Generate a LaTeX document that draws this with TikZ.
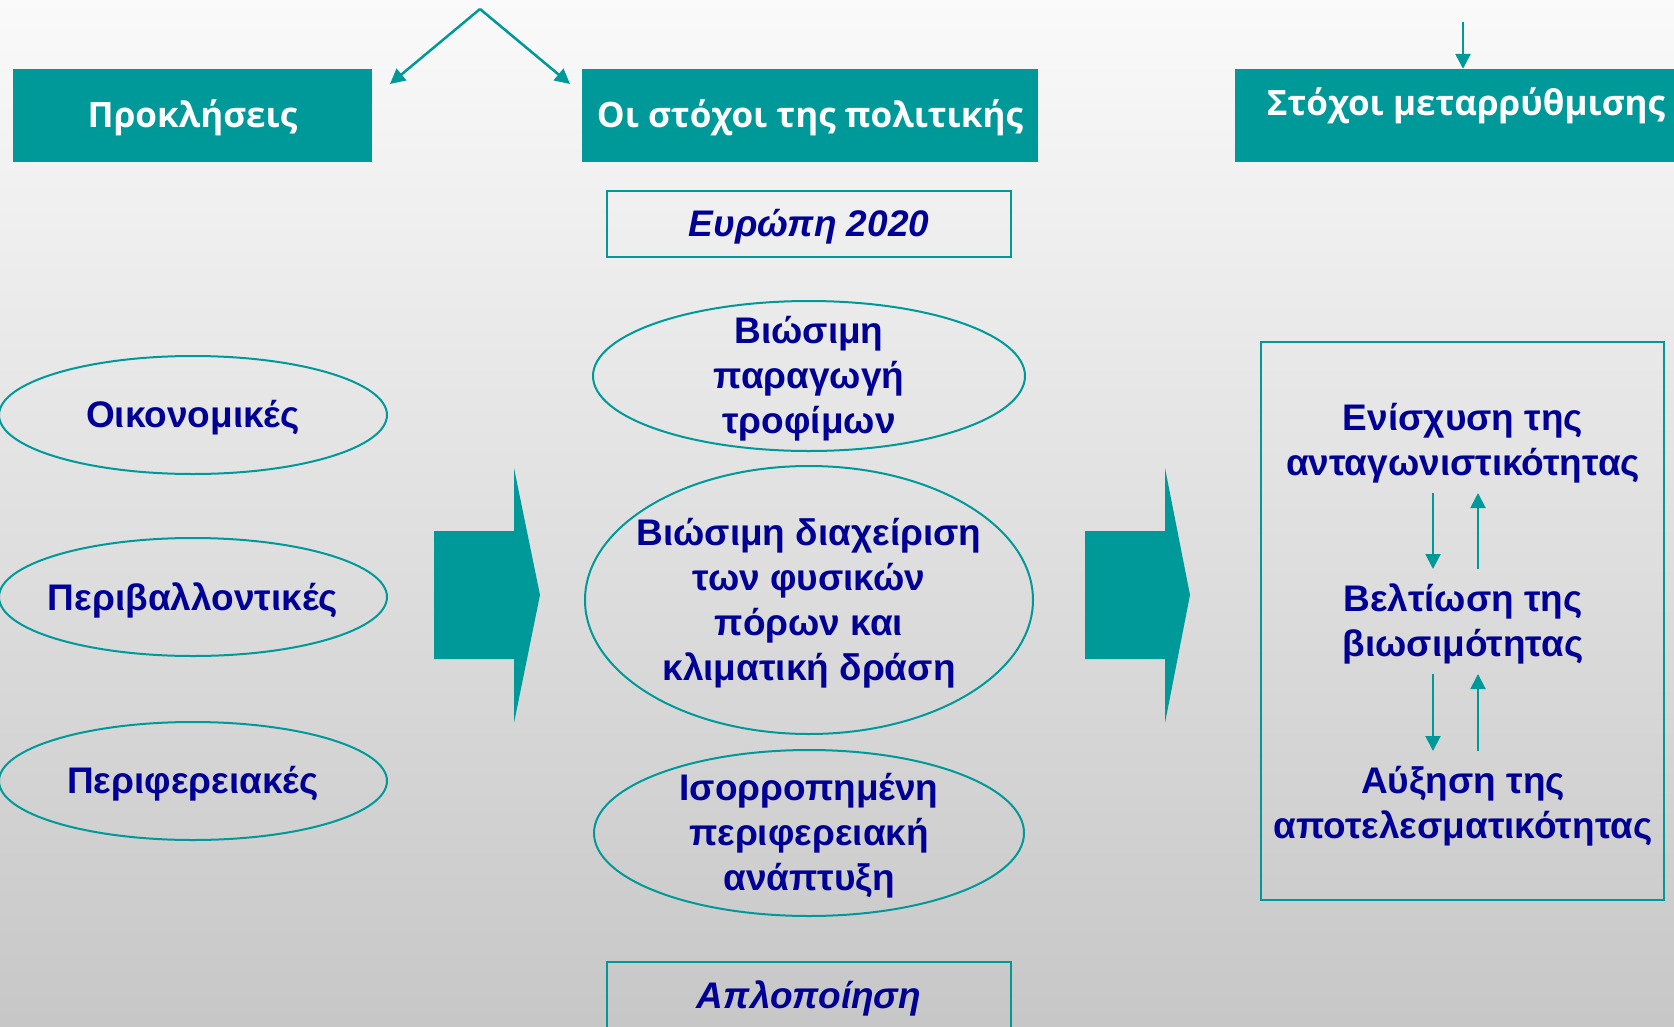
\documentclass[tikz,border=0pt]{standalone}
\usepackage{fontspec}
\setmainfont{Liberation Sans}
\newfontfamily\headfont{Open Sans}
\usetikzlibrary{shapes,positioning,arrows.meta}
\definecolor{teal1}{RGB}{0,153,153}
\definecolor{navy1}{RGB}{0,0,150}
\colorlet{bgTop}{black!2}
\colorlet{bgBottom}{black!22}
\tikzset{>={Triangle[length=15pt,width=15pt]}}
\tikzset{
  header/.style={fill=teal1, text=white, font=\headfont\bfseries\fontsize{35}{40}\selectfont, inner sep=0pt},
  oval/.style={draw=teal1, line width=2pt, ellipse, inner sep=0pt},
  bodytext/.style={text=navy1, font=\bfseries\fontsize{37}{45}\selectfont, align=center, inner sep=0pt, yshift=-3pt},
  italictext/.style={bodytext, font=\bfseries\itshape\fontsize{37}{45}\selectfont},
  frame/.style={draw=teal1, line width=2pt, inner sep=0pt},
  link/.style={teal1, line width=2.5pt, ->},
  bigarrow/.style={fill=teal1, draw=none}
}

\begin{document}
\begin{tikzpicture}[x=1pt,y=-1pt]
    \clip (0,0) rectangle (1674,1026);
    \useasboundingbox (0,0) rectangle (1674,1026);
    \shade[top color=bgTop, bottom color=bgBottom] (0,0) rectangle (1674,1026);
    % headers
    \node[header, minimum width=359, minimum height=93] (chal) at (192.5,115.5) {};
    \node[header, fill=none] (chaltxt) at (192.5,118) {Προκλήσεις};
    \node[header, minimum width=456, minimum height=93] (pol) at (810,115.5) {};
    \node[header, fill=none] (poltxt) at (810,118) {Οι στόχοι της πολιτικής};
    \node[header, minimum width=480, minimum height=93] (ref) at (1475,115.5) {};
    \node[header, fill=none] (reftxt) at (1466,106) {Στόχοι μεταρρύθμισης};
      \coordinate (top) at (480,9);
      \coordinate (topL) at (390,84);
      \coordinate (topR) at (570,84);
      \coordinate (topD) at (1463,22);
    \draw[link] (top) -- (topL);
    \draw[link] (top) -- (topR);
    \draw[link] (topD) -- (topD |- ref.north);
    % left column
    \node[oval, minimum width=388, minimum height=118] (eco) at (193,415) {};
    \node[bodytext] (ecotxt) at (eco) {Οικονομικές};
    \node[oval, minimum width=388, minimum height=118] (env) at (193,597) {};
    \node[bodytext] (envtxt) at (env) {Περιβαλλοντικές};
    \node[oval, minimum width=388, minimum height=118] (reg) at (193,781) {};
    \node[bodytext] (regtxt) at (reg) {Περιφερειακές};
    % middle column
    \node[frame, minimum width=404, minimum height=66] (eu) at (809,224) {};
    \node[italictext] (eutxt) at (eu) {Ευρώπη 2020};
    \node[oval, minimum width=432, minimum height=150] (food) at (809,376) {};
    \node[bodytext] (foodtxt) at (food) {Βιώσιμη\\παραγωγή\\τροφίμων};
    \node[oval, minimum width=448, minimum height=268] (nat) at (809,600) {};
    \node[bodytext] (nattxt) at (nat) {Βιώσιμη διαχείριση\\των φυσικών\\πόρων και\\κλιματική δράση};
    \node[oval, minimum width=430, minimum height=166] (bal) at (809,833) {};
    \node[bodytext] (baltxt) at (bal) {Ισορροπημένη\\περιφερειακή\\ανάπτυξη};
    \node[frame, minimum width=404, minimum height=90] (simp) at (809,1007) {};
    \node[italictext] (simptxt) at (809,995) {Απλοποίηση};
    % big arrows
    \fill[bigarrow] (434,531) -- (514,531) -- (514,468) -- (540,595) -- (514,723) -- (514,659) -- (434,659) -- cycle;
    \fill[bigarrow] (1085,531) -- (1165,531) -- (1165,468) -- (1190,595) -- (1165,723) -- (1165,659) -- (1085,659) -- cycle;
    % right column
    \node[frame, minimum width=403, minimum height=558] (aims) at (1462.5,621) {};
    \node[bodytext] (comp) at (1463,440) {Ενίσχυση της\\ανταγωνιστικότητας};
    \node[bodytext] (sust) at (1463,621) {Βελτίωση της\\βιωσιμότητας};
    \node[bodytext] (effi) at (1463,803) {Αύξηση της\\αποτελεσματικότητας};
      \coordinate (a1) at (1433,493);
      \coordinate (a2) at (1478,569);
      \coordinate (a3) at (1433,674);
      \coordinate (a4) at (1478,751);
    \draw[link, line width=2pt] (a1) -- (a1 |- a2);
    \draw[link, line width=2pt] (a2) -- (a2 |- a1);
    \draw[link, line width=2pt] (a3) -- (a3 |- a4);
    \draw[link, line width=2pt] (a4) -- (a4 |- a3);
\end{tikzpicture}
\end{document}
